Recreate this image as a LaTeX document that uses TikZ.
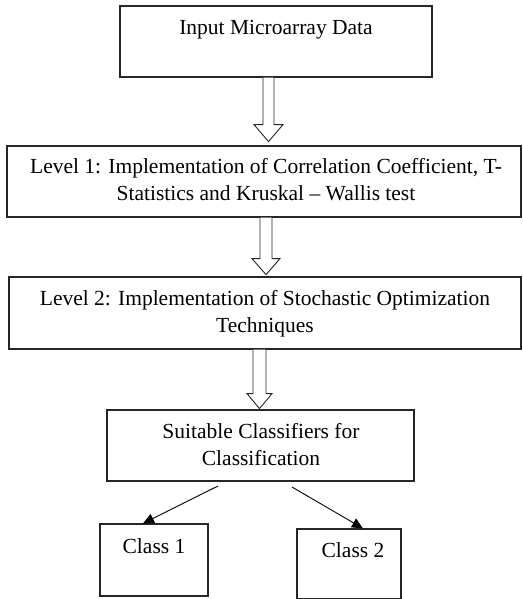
\documentclass[tikz,border=0pt]{standalone}
\usepackage{fontspec}
\setmainfont{Liberation Serif}
\usetikzlibrary{arrows.meta,calc}
\newcommand{\blockarrowpath}[5]{% top-centre coordinate, shaft half, head half, head top offset, tip offset
  \draw[blockarr] ($(#1)+(-#2,0)$) -- ($(#1)+(-#2,#4)$) -- ($(#1)+(-#3,#4)$) -- ($(#1)+(0,#5)$)
   -- ($(#1)+(#3,#4)$) -- ($(#1)+(#2,#4)$) -- ($(#1)+(#2,0)$);}
\begin{document}
\begin{tikzpicture}[x=1pt,y=-1pt,
  box/.style={draw=black!85,line width=1.2pt,inner sep=0pt,rectangle},
  lbl/.style={anchor=base,align=center,inner sep=0pt,font=\fontsize{21.5}{27}\selectfont},
  blockarr/.style={draw=black!85,line width=0.9pt,fill=white,line join=miter},
  thinarr/.style={draw=black,line width=0.9pt,-{Triangle[length=11pt,width=10pt]}}]
\useasboundingbox (0,0) rectangle (522,599);
% boxes
\node[box,minimum width=312pt,minimum height=71pt] (b1) at (276,41.5) {};
\node[box,minimum width=514pt,minimum height=71pt] (b2) at (264,181.5) {};
\node[box,minimum width=512pt,minimum height=72pt] (b3) at (265,313) {};
\node[box,minimum width=307pt,minimum height=71pt] (b4) at (260.5,445.5) {};
\node[box,minimum width=108pt,minimum height=72pt] (c1) at (154,560) {};
\node[box,minimum width=104pt,minimum height=70pt] (c2) at (349,564) {};
% texts (multi-line: base = last line)
\node[lbl] (t1) at (276,35) {Input Microarray Data};
\node[lbl] (t2) at (266,200) {Level 1: Implementation of Correlation Coefficient, T-\\Statistics and Kruskal -- Wallis test};
\node[lbl] (t3) at (265,332) {Level 2: Implementation of Stochastic Optimization\\Techniques};
\node[lbl] (t4) at (261,465) {Suitable Classifiers for\\Classification};
\node[lbl] (t5) at (154,553) {Class 1};
\node[lbl] (t6) at (353,557) {Class 2};
% block arrows
\coordinate (a1) at (b1.south -| 268.5,0);
\coordinate (a2) at (b2.south -| 266,0);
\coordinate (a3) at (b3.south -| 259.5,0);
\blockarrowpath{a1}{5.5}{14.5}{47}{64}
\blockarrowpath{a2}{6}{14}{41}{57}
\blockarrowpath{a3}{6.5}{12.5}{44}{59}
% thin arrows
\coordinate (s1) at (218,486);
\coordinate (s2) at (292,487);
\draw[thinarr] (s1) -- (c1.north -| 143,0);
\draw[thinarr] (s2) -- (c2.north -| 363,0);
\end{tikzpicture}
\end{document}
